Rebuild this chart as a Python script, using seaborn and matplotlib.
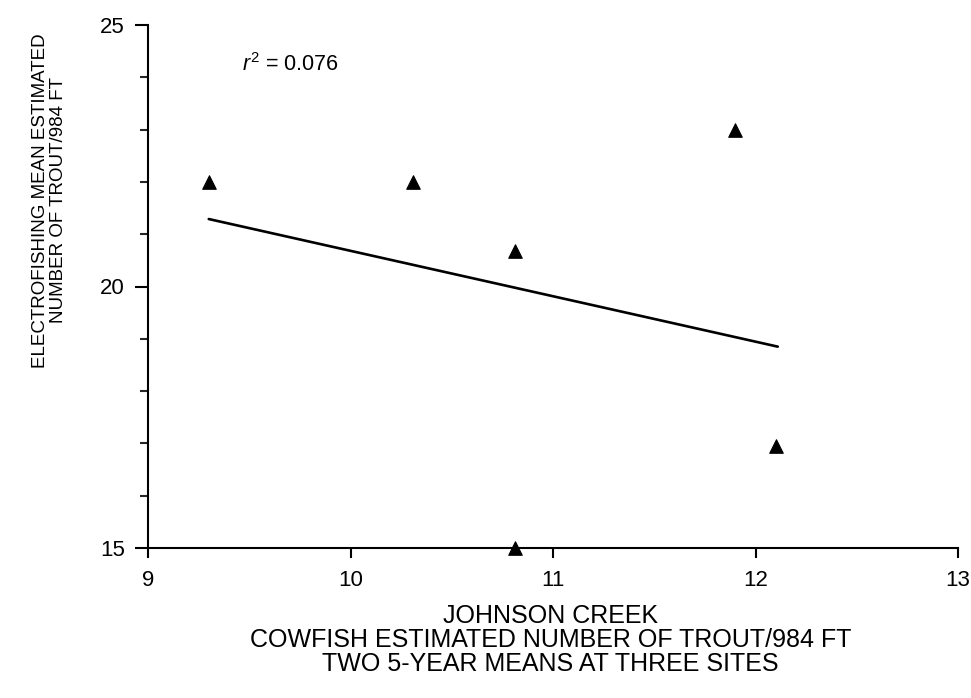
import matplotlib
matplotlib.use("Agg")
import matplotlib.pyplot as plt
from matplotlib.ticker import MultipleLocator
import seaborn as sns
import pandas as pd

# Data
cowfish = [9.3, 10.31, 10.81, 10.81, 11.9, 12.1]
electro = [22.0, 22.0, 20.67, 15.0, 23.0, 16.95]
fit_x = [9.3, 12.11]
fit_y = [21.29, 18.85]
x_ticks = [9, 10, 11, 12, 13]
y_ticks = [15, 20, 25]
r2_text = "$\\mathit{r}^2$ = 0.076"

sns.set_theme(style="ticks")
plt.rcParams["font.family"] = ["Liberation Sans", "DejaVu Sans"]
plt.rcParams["mathtext.fontset"] = "custom"
plt.rcParams["mathtext.rm"] = "Liberation Sans"
plt.rcParams["mathtext.it"] = "Liberation Sans:italic"

pts = pd.DataFrame({"x": cowfish, "y": electro})
fit = pd.DataFrame({"x": fit_x, "y": fit_y})

fig = plt.figure(figsize=(9.71, 6.98), dpi=100)
ax = fig.add_axes([148 / 971, 1 - 548 / 698, 810 / 971, 523 / 698])

sns.lineplot(data=fit, x="x", y="y", ax=ax, color="black", linewidth=1.9,
             solid_capstyle="round")
sns.scatterplot(data=pts, x="x", y="y", ax=ax, marker="^", s=95,
                color="black", edgecolor="black", clip_on=False, zorder=5)

ax.set_xlim(9, 13)
ax.set_ylim(15, 25)
ax.set_xticks(x_ticks)
ax.set_yticks(y_ticks)
ax.yaxis.set_minor_locator(MultipleLocator(1))
ax.xaxis.set_minor_locator(matplotlib.ticker.NullLocator())

for s in ["top", "right"]:
    ax.spines[s].set_visible(False)
for s in ["left", "bottom"]:
    ax.spines[s].set_linewidth(1.5)
    ax.spines[s].set_color("black")

ax.tick_params(axis="y", which="major", direction="out", length=9.5, width=1.5,
               labelsize=16, pad=7, colors="black")
ax.tick_params(axis="y", which="minor", direction="out", length=6, width=1.5)
ax.tick_params(axis="x", which="major", direction="out", length=7, width=1.5,
               labelsize=16, pad=9, colors="black")

ax.set_xlabel("JOHNSON CREEK\nCOWFISH ESTIMATED NUMBER OF TROUT/984 FT\nTWO 5-YEAR MEANS AT THREE SITES",
              fontsize=18, linespacing=1.0, multialignment="center", color="black")
ax.xaxis.set_label_coords(0.497, -0.108)
ax.xaxis.label.set_va("top")

ax.set_ylabel("ELECTROFISHING MEAN ESTIMATED\nNUMBER OF TROUT/984 FT",
              fontsize=13.5, linespacing=1.1, multialignment="center", color="black")
ax.yaxis.set_label_coords(-0.1, 0.665)
ax.yaxis.label.set_va("bottom")

ax.text(9.466, 24.13, r2_text, fontsize=15.5, ha="left", va="baseline", color="black")

fig.savefig("out.png", dpi=100, facecolor="white")
